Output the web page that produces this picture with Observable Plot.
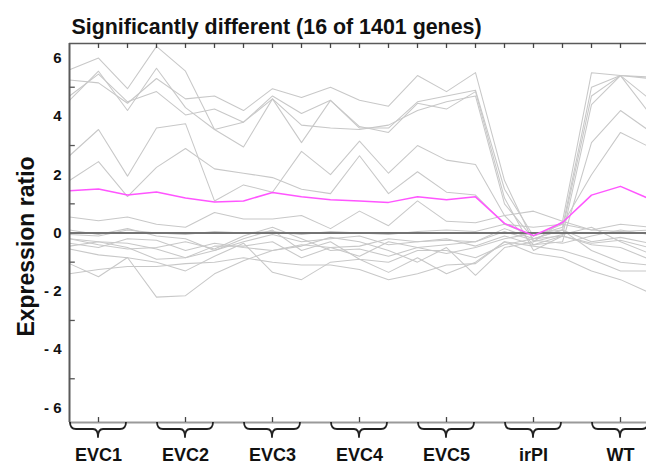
<!DOCTYPE html>
<html><head><meta charset="utf-8">
<script src="https://cdn.jsdelivr.net/npm/d3@7"></script>
<script src="https://cdn.jsdelivr.net/npm/@observablehq/plot@0.6"></script>
<style>
html,body{margin:0;padding:0;background:#fff;overflow:hidden;width:646px;height:463px}
</style>
</head><body><div id="chart"></div>
<script>
const titleText = "Significantly different (16 of 1401 genes)";
const yLabelText = "Expression ratio";
const groups = ["EVC1", "EVC2", "EVC3", "EVC4", "EVC5", "irPI", "WT"];
const samplesPerGroup = 3;
const yTickValues = [6, 4, 2, 0, -2, -4, -6];
const yTickLabels = ["6", "4", "2", "0", "- 2", "- 4", "- 6"];
const yMinorTicks = [5, 3, 1, -1, -3, -5];

const gene01 = [5.6, 6.0, 4.95, 6.4, 5.55, 3.55, 2.95, 4.6, 3.1, 4.55, 3.6, 3.6, 4.5, 4.7, 4.9, 1.5, -0.1, 0.2, 5.0, 5.4, 5.3];
const gene02 = [5.25, 5.15, 4.45, 5.3, 4.6, 4.7, 4.2, 4.95, 4.65, 5.0, 4.55, 4.35, 5.4, 4.85, 5.5, 1.8, -0.3, 0.4, 5.5, 5.4, 5.35];
const gene03 = [4.55, 5.55, 4.2, 5.65, 4.3, 3.55, 3.8, 4.7, 4.1, 4.55, 3.65, 3.45, 4.45, 4.25, 4.85, 1.2, -0.6, -0.1, 4.4, 5.4, 4.6];
const gene04 = [4.7, 5.45, 4.5, 4.85, 4.05, 4.25, 3.8, 4.6, 3.7, 3.6, 3.55, 3.7, 4.2, 4.5, 4.7, 1.0, -0.2, 0.1, 4.7, 5.4, 4.1];
const gene05 = [2.65, 3.55, 1.95, 3.6, 3.75, 1.1, 1.65, 1.4, 2.8, 2.0, 3.15, 2.05, 3.0, 2.5, 2.35, 0.6, -0.4, -0.3, 3.1, 4.2, 3.5];
const gene06 = [1.8, 2.45, 1.25, 2.25, 2.9, 2.2, 2.05, 1.9, 1.5, 1.35, 2.65, 1.35, 2.1, 1.4, 1.3, 0.3, -0.1, 0.3, 2.0, 3.45, 2.95];
const gene07 = [0.55, 0.42, 0.55, 0.3, 0.2, 0.7, 0.48, 0.48, 0.6, 0.15, 0.75, 0.25, 1.1, 0.4, 0.35, 0.6, 0.75, 0.4, 0.1, 0.3, 0.2];
const gene08 = [-0.05, -0.1, 0.1, 0.0, -0.05, 0.05, 0.0, 0.05, -0.05, 0.05, 0.0, -0.05, 0.05, 0.1, 0.05, 0.3, 0.2, 0.3, 0.1, 0.05, 0.1];
const gene09 = [-0.2, -0.3, -0.35, -0.55, -0.85, -0.6, -0.3, -0.05, -0.3, -0.2, -0.1, -0.4, -0.3, -0.25, -0.3, 0.05, -0.25, -0.35, -0.1, 0.1, -0.05];
const gene10 = [-0.45, -0.3, -0.5, -0.9, -0.85, -0.45, -0.45, -0.3, -0.85, -0.5, -0.45, -0.2, -0.3, -0.2, -0.45, -0.1, -0.4, -0.1, -0.35, -0.25, -0.5];
const gene11 = [-0.55, -0.75, -0.85, -1.0, -1.3, -0.8, -0.35, -1.35, -1.6, -1.0, -0.9, -1.35, -0.85, -1.4, -1.0, -0.3, -0.45, -0.6, -0.9, -1.3, -1.3];
const gene12 = [-1.05, -1.5, -0.84, -2.2, -2.15, -1.4, -0.95, -0.6, -0.4, -0.5, -0.8, -0.3, -0.5, -0.4, -0.3, 0.15, -0.2, -0.1, -0.4, -0.5, -0.9];
const gene13 = [-1.4, -1.25, -1.15, -1.15, -1.05, -1.0, -0.85, -1.0, -1.1, -1.1, -1.25, -1.6, -1.4, -1.1, -1.05, -0.3, -0.7, -0.85, -1.3, -1.6, -2.05];
const gene14 = [-0.2, -0.4, -0.55, -0.5, -0.3, -0.55, -0.1, 0.2, -0.2, -0.6, -0.55, -0.8, -0.5, -0.7, -0.5, -0.2, 0.0, 0.1, -0.6, -1.0, -1.1];
const gene15 = [0.1, -0.05, 0.15, -0.1, -0.2, -0.6, -0.2, 0.1, -0.6, -0.3, -0.9, -1.0, -0.6, -0.6, -0.85, -0.4, -0.2, 0.1, -0.3, -0.15, -0.35];
const gene16 = [-0.35, -0.5, -0.2, -0.25, -0.6, -0.35, -0.5, -0.6, -0.45, -0.15, -0.3, -0.6, -1.0, -0.5, -1.45, -0.5, -0.3, -0.05, 0.2, -0.3, -0.7];
const meanRatio = [1.45, 1.51, 1.3, 1.41, 1.2, 1.06, 1.1, 1.39, 1.24, 1.14, 1.1, 1.05, 1.24, 1.14, 1.24, 0.33, -0.09, 0.36, 1.3, 1.6, 1.17];

const genes = [gene01, gene02, gene03, gene04, gene05, gene06, gene07, gene08,
               gene09, gene10, gene11, gene12, gene13, gene14, gene15, gene16];
const nSamples = groups.length * samplesPerGroup;
const sampleIdx = d3.range(nSamples);
const geneRows = genes.flatMap((vals, g) => vals.map((v, i) => ({gene: g, i, v})));
const meanRows = meanRatio.map((v, i) => ({i, v}));
const groupCenters = groups.map((g, k) => k * samplesPerGroup + 1);

const font = "'Liberation Sans', Arial, Helvetica, sans-serif";

const plot = Plot.plot({
  width: 646, height: 463,
  marginLeft: 69, marginTop: 43, marginBottom: 41, marginRight: 0,
  x: {domain: [0, nSamples - 1], range: [69, 649], axis: null},
  y: {domain: [-6.5, 6.5], axis: null},
  style: {fontFamily: font, background: "white", color: "#111"},
  marks: [
    Plot.line(geneRows, {x: "i", y: "v", z: "gene", stroke: "#c8c8c8", strokeWidth: 1.05}),
    Plot.ruleY([0], {stroke: "#737373", strokeWidth: 1.8}),
    Plot.line(meanRows, {x: "i", y: "v", stroke: "#ff55ff", strokeWidth: 1.5}),
    Plot.ruleY([-6.5], {stroke: "#9a9a9a", strokeWidth: 2}),
    Plot.ruleY([6.5], {stroke: "#5a5a5a", strokeWidth: 1.6}),
    Plot.ruleX([0], {y1: -6.5, y2: 6.5, stroke: "#5a5a5a", strokeWidth: 2}),
    Plot.ruleX(sampleIdx.slice(1), {x: d => d, y1: 6.5, y2: 6.33, stroke: "#444", strokeWidth: 1.3}),
    Plot.ruleY(yMinorTicks, {y: d => d, x1: 0, x2: 0.2, stroke: "#555", strokeWidth: 1.3}),
    Plot.ruleX(groupCenters, {x: d => d, y1: -6.5, y2: -6.33, stroke: "#444", strokeWidth: 1.3}),
    Plot.text(yTickValues, {y: d => d, text: (d, i) => yTickLabels[i], frameAnchor: "left",
      textAnchor: "end", dx: -8, fontSize: 15, fontWeight: "bold", fill: "#111"}),
    Plot.text(groups, {x: (d, k) => groupCenters[k], text: d => d, frameAnchor: "bottom",
      textAnchor: "middle", lineAnchor: "bottom", dy: 38, fontSize: 18, fontWeight: "bold", fill: "#111"}),
    Plot.text([titleText], {text: d => d, frameAnchor: "top-left", textAnchor: "start",
      lineAnchor: "bottom", dx: 2, dy: -10, fontSize: 21.4, fontWeight: "bold", fill: "#111"}),
    Plot.text([yLabelText], {text: d => d, frameAnchor: "left", rotate: -90, textAnchor: "middle",
      lineAnchor: "bottom", dx: -36, dy: 13.5, fontSize: 23, fontWeight: "bold", fill: "#111"})
  ]
});

// curly braces under each group, positioned through Plot's own scales
const sx = plot.scale("x");
const sy = plot.scale("y");
const yb = sy.apply(-6.5);
const gBr = d3.select(plot).append("g").attr("fill", "none").attr("stroke", "#222")
  .attr("stroke-width", 1.8).attr("stroke-linejoin", "round");
groups.forEach((g, k) => {
  const x0 = sx.apply(k * samplesPerGroup);
  const x1 = sx.apply(k * samplesPerGroup + samplesPerGroup - 1);
  const xc = sx.apply(groupCenters[k]);
  const ym = yb + 7, yt = yb + 15;
  const p = d3.path();
  p.moveTo(x0 + 1, yb);
  p.quadraticCurveTo(x0 + 1, ym, x0 + 7, ym);
  p.lineTo(xc - 5, ym);
  p.quadraticCurveTo(xc, ym, xc, yt);
  p.quadraticCurveTo(xc, ym, xc + 5, ym);
  p.lineTo(x1 - 7, ym);
  p.quadraticCurveTo(x1 - 1, ym, x1 - 1, yb);
  gBr.append("path").attr("d", p.toString());
});

document.getElementById("chart").appendChild(plot);
</script>
</body></html>
